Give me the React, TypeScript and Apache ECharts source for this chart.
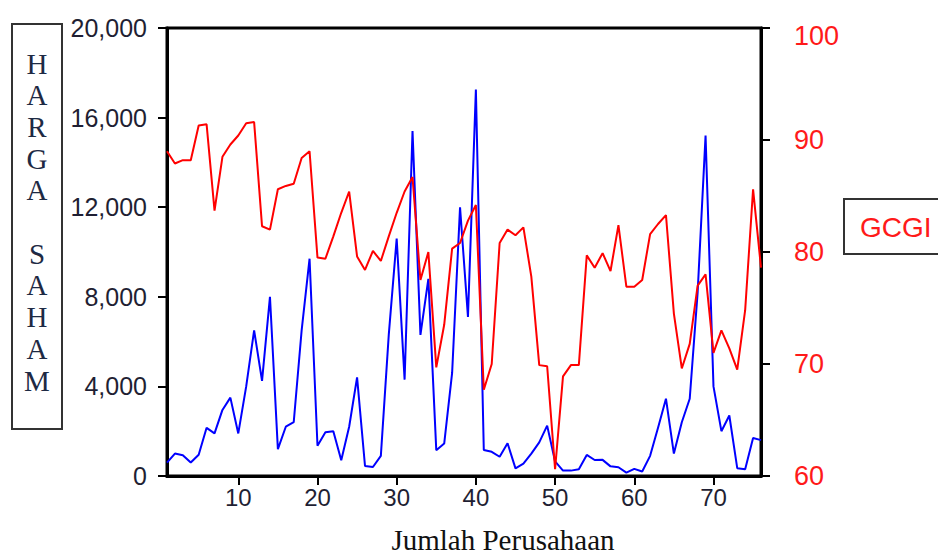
import React, { useEffect, useRef } from "react";
import * as echarts from "echarts";

const categories: string[] = Array.from({ length: 76 }, (_, i) => String(i + 1));

const hargaSaham: number[] = [
  600, 1000, 930, 600, 950, 2150, 1900, 2950, 3500, 1900,
  4000, 6500, 4250, 8000, 1200, 2200, 2400, 6500, 9700, 1350,
  1950, 2000, 700, 2200, 4400, 450, 400, 900, 6300, 10600,
  4300, 15400, 6300, 8800, 1150, 1450, 4600, 12000, 7100, 17250,
  1160, 1080, 860, 1460, 340, 550, 1000, 1500, 2250, 650,
  240, 240, 300, 940, 715, 720, 430, 390, 150, 320,
  200, 900, 2150, 3450, 1000, 2400, 3450, 8200, 15200, 4000,
  2000, 2700, 350, 300, 1700, 1600,
];

const gcgi: number[] = [
  89.0, 87.9, 88.2, 88.2, 91.3, 91.4, 83.7, 88.5, 89.6, 90.4,
  91.5, 91.6, 82.3, 82.0, 85.6, 85.9, 86.1, 88.4, 89.0, 79.5,
  79.4, 81.4, 83.5, 85.4, 79.6, 78.4, 80.1, 79.2, 81.4, 83.5,
  85.4, 86.7, 77.5, 80.0, 69.7, 73.5, 80.3, 80.8, 82.8, 84.2,
  67.7, 70.0, 80.8, 82.0, 81.5, 82.2, 77.8, 69.9, 69.8, 60.6,
  68.9, 69.9, 69.9, 79.7, 78.6, 79.9, 78.3, 82.4, 76.9, 76.9,
  77.5, 81.6, 82.5, 83.3, 74.5, 69.6, 71.8, 77.0, 78.0, 71.0,
  73.0, 71.4, 69.5, 74.8, 85.6, 78.6,
];

const leftAxisTitle = "H\nA\nR\nG\nA\n\nS\nA\nH\nA\nM";
const rightAxisTitle = "GCGI";
const xAxisTitle = "Jumlah Perusahaan";

const SANS = '"Liberation Sans", Arial, sans-serif';
const SERIF = '"Liberation Serif", "Times New Roman", serif';

export default function App() {
  const ref = useRef<HTMLDivElement>(null);

  useEffect(() => {
    if (!ref.current) return;
    const chart = echarts.init(ref.current, undefined, { renderer: "svg" });
    const tickEvery10 = (index: number) => (index + 1) % 10 === 0;
    chart.setOption({
      animation: false,
      backgroundColor: "#ffffff",
      grid: {
        show: true,
        left: 167,
        right: 177,
        top: 28,
        bottom: 80,
        borderColor: "#000",
        borderWidth: 3,
        backgroundColor: "transparent",
      },
      xAxis: {
        type: "category",
        data: categories,
        boundaryGap: false,
        axisLine: { show: true, lineStyle: { color: "#000", width: 3 } },
        axisTick: { show: true, interval: tickEvery10, length: 9, lineStyle: { color: "#000", width: 2 } },
        axisLabel: {
          interval: tickEvery10,
          margin: 9,
          fontSize: 24,
          fontFamily: SANS,
          color: "#1f1f33",
        },
        splitLine: { show: false },
      },
      yAxis: [
        {
          type: "value",
          position: "left",
          min: 0,
          max: 20000,
          interval: 4000,
          axisLine: { show: true, lineStyle: { color: "#000", width: 3 } },
          axisTick: { show: true, length: 9, lineStyle: { color: "#000", width: 2 } },
          axisLabel: {
            margin: 20,
            fontSize: 25,
            fontFamily: SANS,
            color: "#1f1f33",
            formatter: (v: number) => v.toLocaleString("en-US"),
          },
          splitLine: { show: false },
        },
        {
          type: "value",
          position: "right",
          min: 60,
          max: 100,
          interval: 10,
          axisLine: { show: true, lineStyle: { color: "#000", width: 3 } },
          axisTick: { show: true, length: 9, lineStyle: { color: "#000", width: 2 } },
          axisLabel: {
            margin: 33,
            fontSize: 27,
            fontFamily: SANS,
            color: "#ff1a1a",
            formatter: (v: number) => (v === 100 ? "{t|100}" : String(v)),
            rich: {
              t: { padding: [16, 0, 0, 0], fontSize: 27, fontFamily: SANS, color: "#ff1a1a" },
            },
          },
          splitLine: { show: false },
        },
      ],
      series: [
        {
          name: "HARGA SAHAM",
          type: "line",
          yAxisIndex: 0,
          data: hargaSaham,
          showSymbol: false,
          symbol: "none",
          lineStyle: { color: "#0000ff", width: 2 },
          itemStyle: { color: "#0000ff" },
        },
        {
          name: "GCGI",
          type: "line",
          yAxisIndex: 1,
          data: gcgi,
          showSymbol: false,
          symbol: "none",
          lineStyle: { color: "#ff0000", width: 2 },
          itemStyle: { color: "#ff0000" },
        },
      ],
      graphic: [
        {
          type: "rect",
          shape: { x: 12, y: 24, width: 50, height: 405 },
          style: { fill: "none", stroke: "#333", lineWidth: 2 },
        },
        {
          type: "text",
          x: 37,
          y: 222,
          style: {
            text: leftAxisTitle,
            font: `29px ${SERIF}`,
            fill: "#1e2a44",
            align: "center",
            verticalAlign: "middle",
            lineHeight: 31.7,
          },
        },
        {
          type: "rect",
          shape: { x: 844, y: 199, width: 110, height: 55 },
          style: { fill: "none", stroke: "#333", lineWidth: 2 },
        },
        {
          type: "text",
          x: 860,
          y: 227,
          style: {
            text: rightAxisTitle,
            font: `28px ${SANS}`,
            fill: "#ff1a1a",
            align: "left",
            verticalAlign: "middle",
          },
        },
        {
          type: "text",
          x: 503,
          y: 540,
          style: {
            text: xAxisTitle,
            font: `29px ${SERIF}`,
            fill: "#111",
            align: "center",
            verticalAlign: "middle",
          },
        },
      ],
    });
    return () => chart.dispose();
  }, []);

  return (
    <div
      ref={ref}
      style={{ position: "fixed", left: 0, top: 0, width: 938, height: 556, background: "#fff" }}
    />
  );
}
